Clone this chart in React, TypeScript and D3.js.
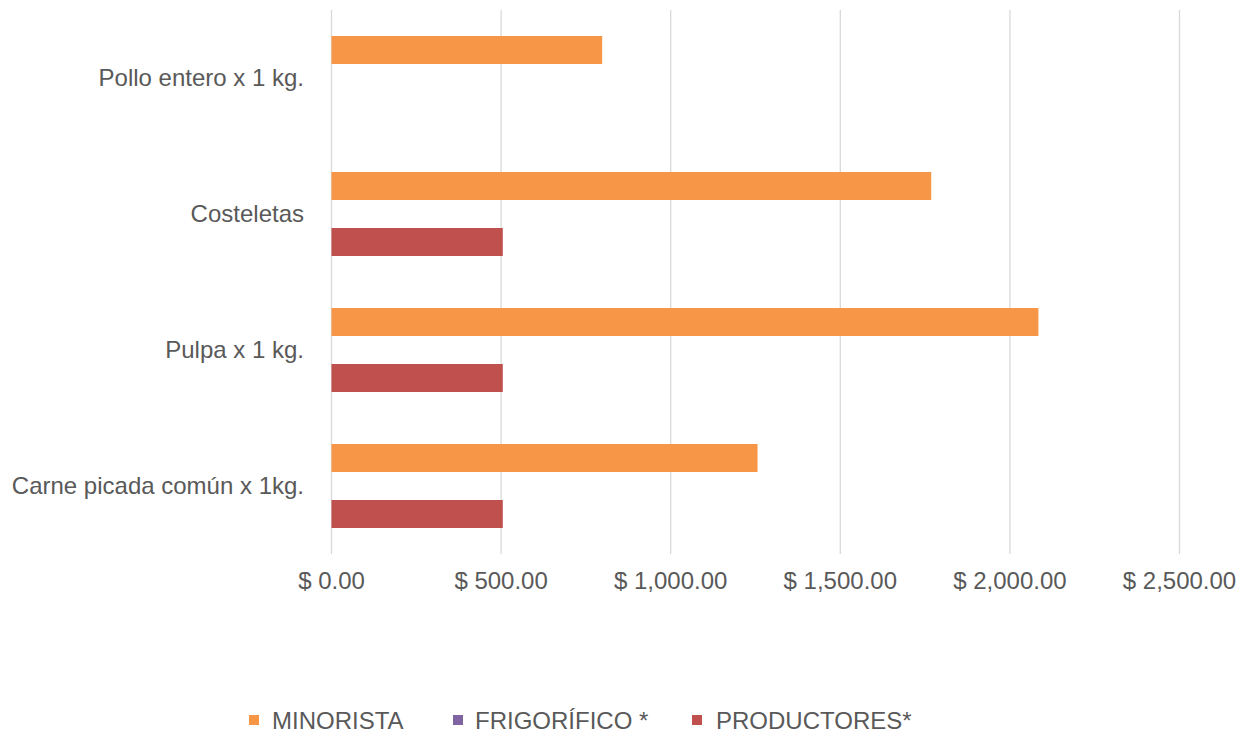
import React from "react";
import * as d3 from "d3";

const categories = ["Pollo entero x 1 kg.", "Costeletas", "Pulpa x 1 kg.", "Carne picada común x 1kg."];
const seriesNames = ["MINORISTA", "FRIGORÍFICO *", "PRODUCTORES*"];
const minorista = [798, 1768, 2084, 1256];
const frigorifico = [0, 0, 0, 0];
const productores = [0, 505, 505, 505];
const tickValues = [0, 500, 1000, 1500, 2000, 2500];
const colors = ["#F79646", "#8064A2", "#C0504D"];

const W = 1239;
const H = 732;
const FONT = "'Liberation Sans', Arial, sans-serif";

export default function App() {
  const series = [minorista, frigorifico, productores];
  const x = d3.scaleLinear().domain([0, 2500]).range([331.5, 1179.5]);
  const y = d3.scaleBand<string>().domain(categories).range([10, 554]).padding(0);
  const groupH = y.bandwidth() * (84 / 136);
  const inner = d3.scaleBand<number>().domain([0, 1, 2]).range([0, groupH]).padding(0);
  const fmt = (v: number) => "$ " + d3.format(",.2f")(v);
  const legendX = [249, 453, 692];
  const legendTextX = [272, 475, 716];

  return (
    <svg width={W} height={H} style={{ position: "absolute", left: 0, top: 0, background: "#fff" }}>
      {tickValues.map((t) => (
        <line key={"g" + t} x1={x(t)} x2={x(t)} y1={10} y2={554} stroke="#d9d9d9" strokeWidth={1.3} />
      ))}
      {categories.map((c, i) => {
        const y0 = (y(c) as number) + (y.bandwidth() - groupH) / 2;
        return (
          <g key={c}>
            {series.map((s, k) =>
              s[i] > 0 ? (
                <rect
                  key={k}
                  x={x(0)}
                  y={y0 + (inner(k) as number)}
                  width={x(s[i]) - x(0)}
                  height={inner.bandwidth()}
                  fill={colors[k]}
                />
              ) : null
            )}
            <text
              x={304}
              y={(y(c) as number) + y.bandwidth() / 2}
              dy="0.34em"
              textAnchor="end"
              fontFamily={FONT}
              fontSize={24}
              fill="#595959"
            >
              {c}
            </text>
          </g>
        );
      })}
      {tickValues.map((t) => (
        <text key={"t" + t} x={x(t)} y={589} textAnchor="middle" fontFamily={FONT} fontSize={24} fill="#595959">
          {fmt(t)}
        </text>
      ))}
      {seriesNames.map((n, k) => (
        <g key={n}>
          <rect x={legendX[k]} y={715} width={10} height={10} fill={colors[k]} />
          <text x={legendTextX[k]} y={728.5} fontFamily={FONT} fontSize={24} fill="#595959">
            {n}
          </text>
        </g>
      ))}
    </svg>
  );
}
